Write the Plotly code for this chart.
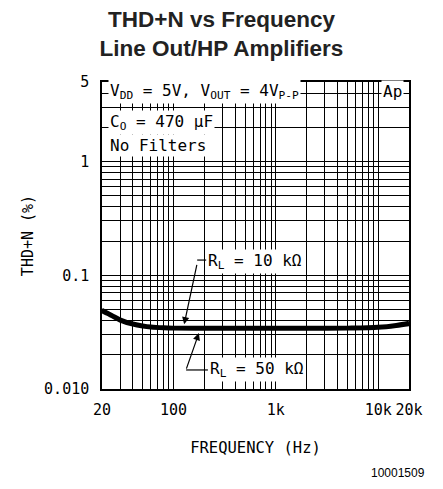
import plotly.graph_objects as go
import math

# THD+N (%) vs frequency (Hz)
freq = [20, 25, 30, 40, 50, 60, 80, 100, 200, 500, 1000, 2000, 5000, 10000, 15000, 20000]
thd_10k = [0.050, 0.045, 0.0412, 0.0378, 0.0364, 0.0356, 0.035, 0.0348, 0.0347, 0.0347, 0.0347, 0.0347, 0.0348, 0.0354, 0.0368, 0.0385]
thd_50k = [0.048, 0.0435, 0.0398, 0.0366, 0.0352, 0.0345, 0.034, 0.0338, 0.0337, 0.0337, 0.0337, 0.0337, 0.0338, 0.0343, 0.0356, 0.037]

x_grid = [20, 30, 40, 50, 60, 70, 80, 90, 100, 200, 300, 400, 500, 600, 700, 800, 900,
          1000, 2000, 3000, 4000, 5000, 6000, 7000, 8000, 9000, 10000, 20000]
x_labels = {20: "20", 100: "100", 1000: "1k", 10000: "10k", 20000: "20k"}
y_grid = [0.01, 0.02, 0.03, 0.04, 0.05, 0.06, 0.07, 0.08, 0.09, 0.1, 0.2, 0.3, 0.4, 0.5,
          0.6, 0.7, 0.8, 0.9, 1, 2, 3, 4, 5]
y_labels = {0.01: "0.010", 0.1: "0.1", 1: "1", 5: "5"}

fnt = "DejaVu Sans Mono"

fig = go.Figure()
for vals in [thd_10k, thd_50k]:
    fig.add_trace(go.Scatter(x=freq, y=vals, mode="lines", line=dict(color="black", width=3.5, shape="spline"),
                             showlegend=False, hoverinfo="skip"))

# page body has an 8px margin, so the figure is a bit smaller than the window
fig.update_layout(
    width=427, height=473,
    margin=dict(l=94, r=23, t=74, b=92),
    paper_bgcolor="white", plot_bgcolor="white",
    title=dict(text="<b>THD+N vs Frequency<br>Line Out/HP Amplifiers</b>",
               font=dict(family="Liberation Sans", size=22.5, color="#222"),
               x=0.5, xanchor="center", y=0.96, yanchor="top"),
    font=dict(family=fnt, size=15, color="black"),
)
fig.update_xaxes(type="log", range=[math.log10(20), math.log10(20000)],
                 tickvals=x_grid, ticktext=[x_labels.get(v, "") for v in x_grid],
                 showgrid=True, gridcolor="black", gridwidth=1.4,
                 showline=True, linecolor="black", linewidth=1.5, mirror=True,
                 ticks="", ticklabelstandoff=6, tickfont=dict(size=15),
                 title=dict(text="FREQUENCY (Hz)", font=dict(size=15.5), standoff=24))
fig.update_yaxes(type="log", range=[math.log10(0.01), math.log10(5)],
                 tickvals=y_grid, ticktext=[y_labels.get(v, "") for v in y_grid],
                 showgrid=True, gridcolor="black", gridwidth=1.4,
                 showline=True, linecolor="black", linewidth=1.5, mirror=True,
                 ticks="", ticklabelstandoff=8, tickfont=dict(size=15),
                 title=dict(text="THD+N (%)", font=dict(size=15), standoff=7))

box = dict(showarrow=False, bgcolor="white", xref="paper", yref="paper", font=dict(family=fnt, size=16),
           yanchor="middle", borderpad=1)
fig.add_annotation(text="V<sub>DD</sub> = 5V, V<sub>OUT</sub> = 4V<sub>P-P</sub>", x=0.02, y=0.968,
                   xanchor="left", **box)
fig.add_annotation(text="C<sub>O</sub> = 470 μF", x=0.02, y=0.868, xanchor="left", **box)
fig.add_annotation(text="No Filters", x=0.02, y=0.792, xanchor="left", **box)
fig.add_annotation(text="Ap", x=0.985, y=0.968, xanchor="right", **box)
fig.add_annotation(text="R<sub>L</sub> = 10 kΩ", x=0.338, y=0.414, xanchor="left", **box)
fig.add_annotation(text="R<sub>L</sub> = 50 kΩ", x=0.345, y=0.062, xanchor="left", **box)

# leader arrows
arrow = dict(text="", showarrow=True, arrowhead=2, arrowsize=1.2, arrowwidth=1.2, arrowcolor="black",
             xref="x", yref="y", axref="pixel", ayref="pixel")
fig.add_annotation(x=math.log10(127), y=math.log10(0.037), ax=13, ay=-61, **arrow)
fig.add_annotation(x=math.log10(177), y=math.log10(0.031), ax=-13, ay=37, **arrow)
fig.add_shape(type="line", xref="paper", yref="paper", x0=0.31, x1=0.34, y0=0.42, y1=0.42,
              line=dict(color="black", width=1.2))
fig.add_shape(type="line", xref="paper", yref="paper", x0=0.274, x1=0.345, y0=0.062, y1=0.062,
              line=dict(color="black", width=1.2))

fig.add_annotation(text="10001509", xref="paper", yref="paper", x=1.06, y=-0.275, xanchor="right",
                   yanchor="middle", showarrow=False, font=dict(family="Liberation Sans", size=12))

fig.write_html("out.html")
